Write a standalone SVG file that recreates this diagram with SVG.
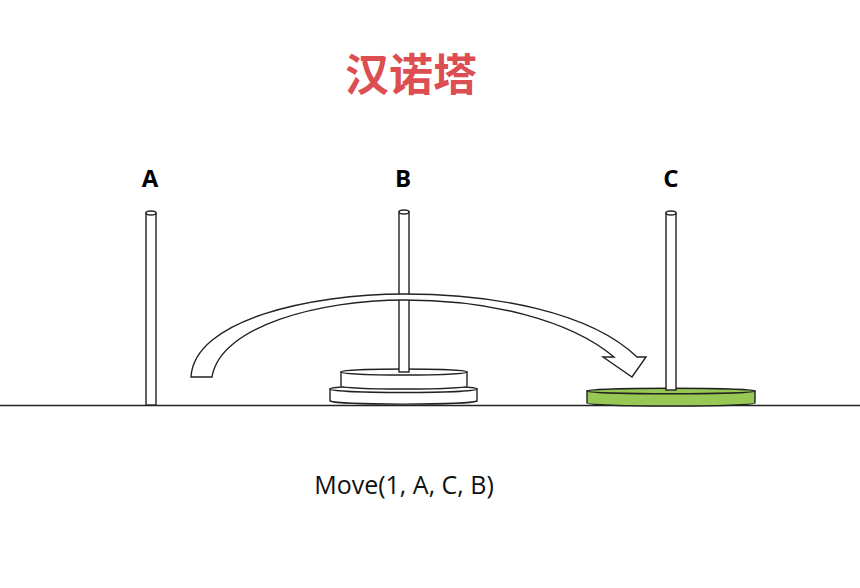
<svg xmlns="http://www.w3.org/2000/svg" width="860" height="588" viewBox="0 0 860 588">
<style>
.lbl{font-family:"Open Sans","Liberation Sans",sans-serif;font-weight:bold;font-size:24px;fill:#000;text-anchor:middle}
.st{fill:#fff;stroke:#222;stroke-width:1.4}
.grn{fill:#98C854;stroke:#222;stroke-width:1.4}
</style>
<rect width="860" height="588" fill="#fff"/>
<text x="411" y="91" font-family="Noto Sans CJK SC, sans-serif" font-weight="bold" font-size="44" fill="#DD4E52" text-anchor="middle">汉诺塔</text>
<text class="lbl" x="150" y="187">A</text>
<text class="lbl" x="403" y="187">B</text>
<text class="lbl" x="671" y="187">C</text>
<line x1="0" y1="405.5" x2="860" y2="405.5" stroke="#222" stroke-width="1.4"/>
<g id="pegA">
<rect class="st" x="146" y="213" width="10" height="192"/>
<ellipse class="st" cx="151" cy="213" rx="5" ry="2"/>
</g>
<g id="diskB2">
<path class="st" d="M330,389 L330,401 A74,3.5 0 0 0 477,401 L477,389 Z"/>
<ellipse class="st" cx="403.5" cy="389" rx="73.5" ry="3.5"/>
</g>
<g id="diskB1">
<path class="st" d="M341,372 L341,386 A63,3 0 0 0 467,386 L467,372 Z"/>
<ellipse class="st" cx="404" cy="372" rx="63" ry="3"/>
</g>
<g id="pegB">
<rect class="st" x="399" y="212" width="10" height="160"/>
<ellipse class="st" cx="404" cy="212" rx="5" ry="2"/>
</g>
<g id="diskC">
<path class="grn" d="M587,391 L587,403 A84,3 0 0 0 755,403 L755,391 Z"/>
<ellipse class="grn" cx="671" cy="391" rx="84" ry="2.8"/>
</g>
<g id="pegC">
<rect class="st" x="666" y="213" width="10" height="177"/>
<ellipse class="st" cx="671" cy="213" rx="5" ry="2"/>
</g>
<g id="connectors">
<path class="st" d="M191,377 C194,320 310,294 404,294 C495,294 590,312 637,357 L646,357 L632,377 L603,357 L614,357 C570,320 490,300 404,300 C320,300 220,326 212,377 Z"/>
</g>
<text x="404" y="494" font-family="Open Sans, Liberation Sans, sans-serif" font-size="25" fill="#111" text-anchor="middle">Move(1, A, C, B)</text>
</svg>
